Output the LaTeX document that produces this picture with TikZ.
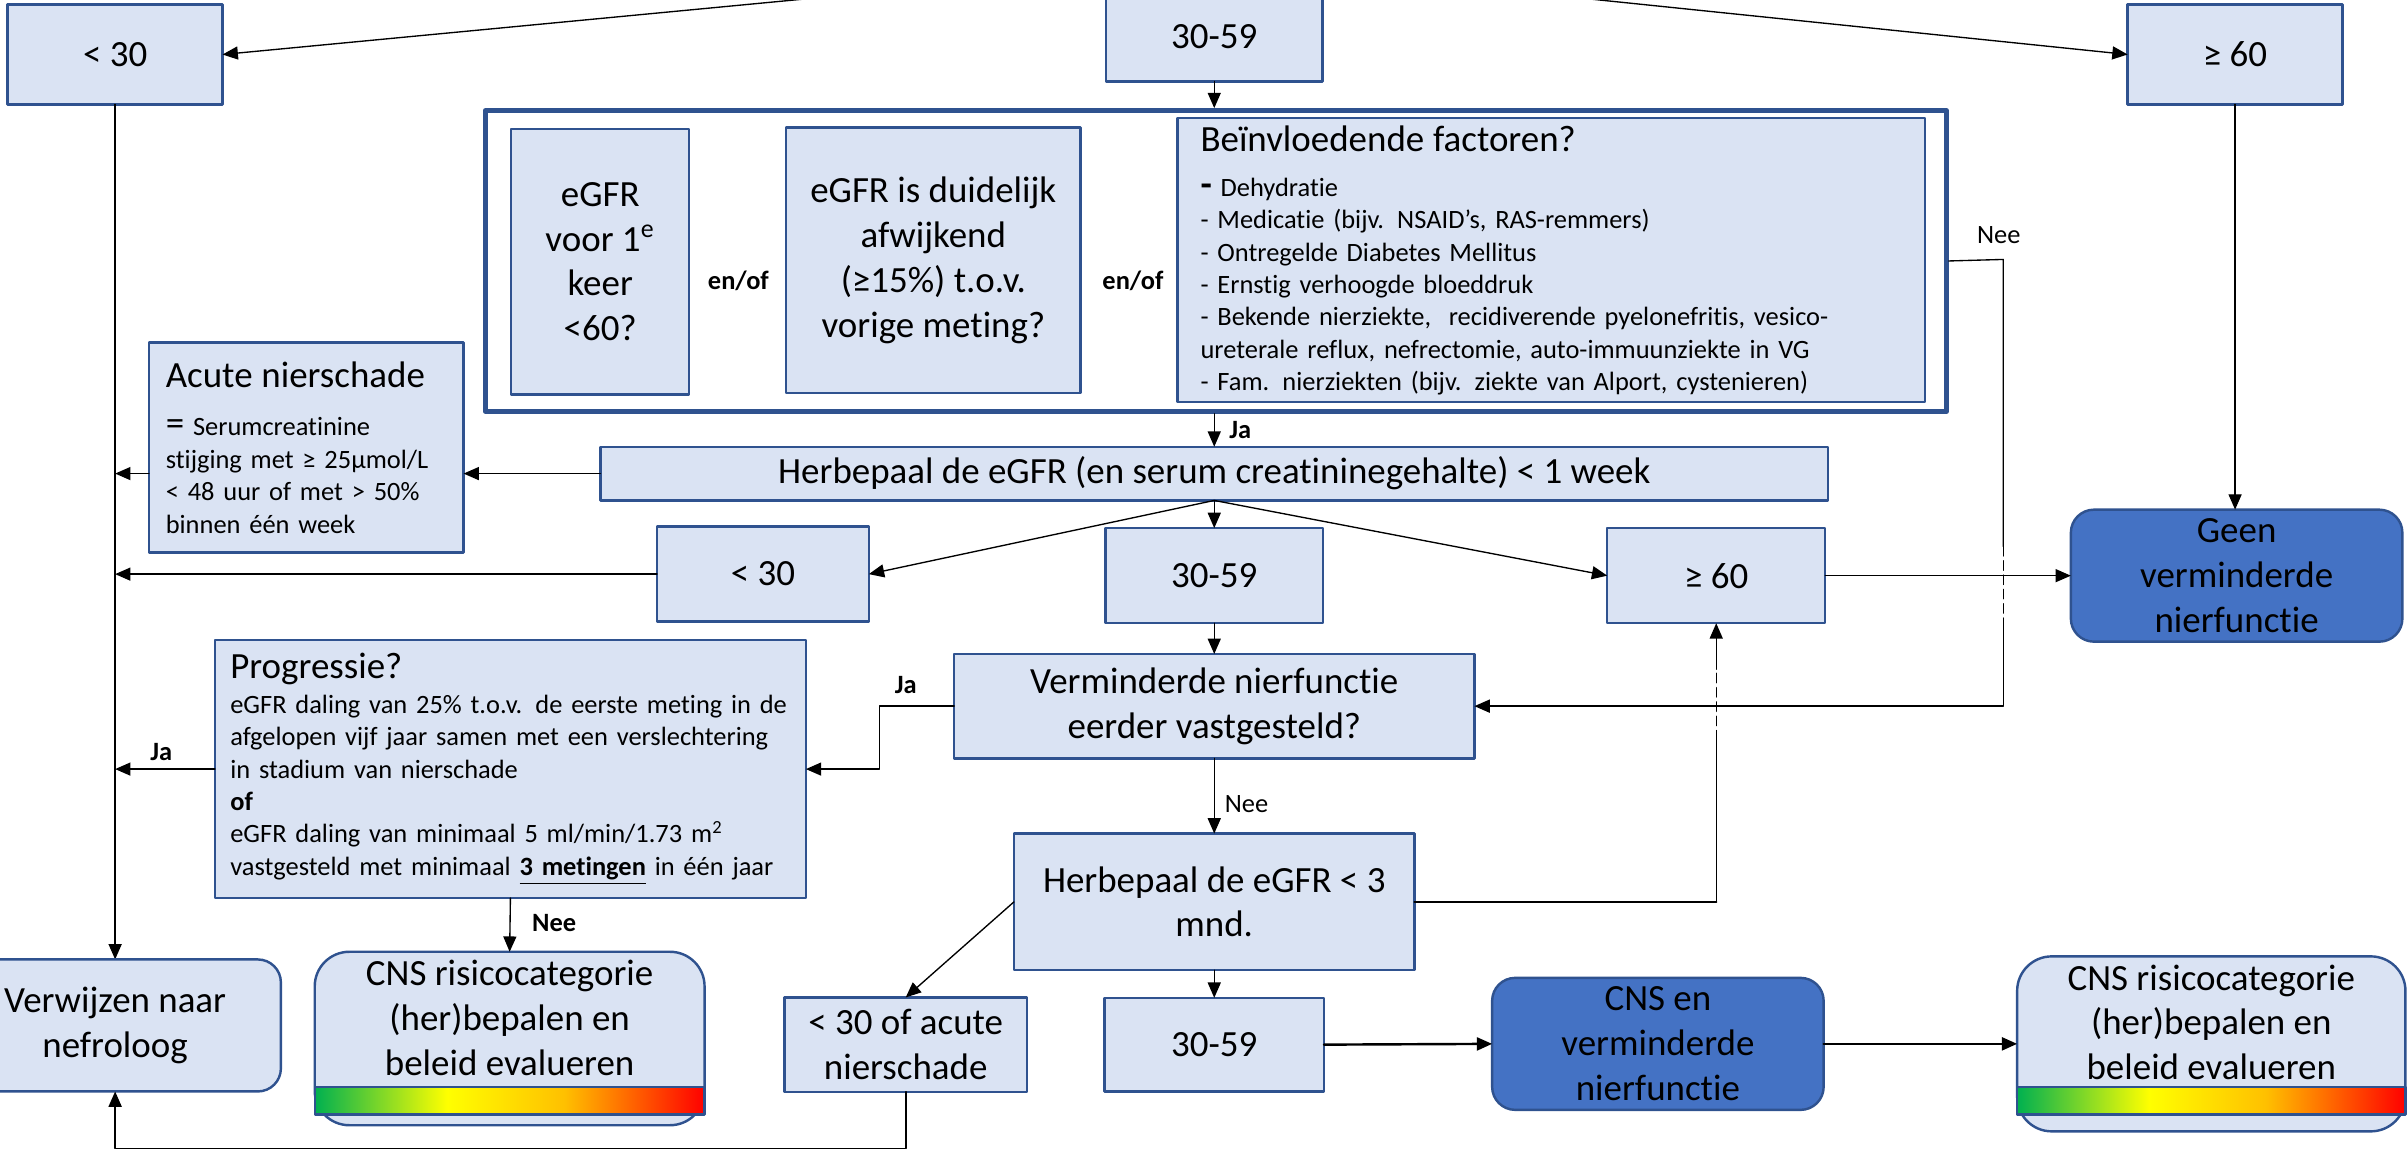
\documentclass[tikz,border=0pt]{standalone}
\usepackage{fontspec}
\setmainfont{Carlito}[Ligatures=NoCommon]
\usetikzlibrary{arrows.meta,positioning,calc}
\definecolor{boxfill}{HTML}{DAE3F3}
\definecolor{boxline}{HTML}{2F528F}
\definecolor{darkfill}{HTML}{4472C4}
\definecolor{riskgreen}{HTML}{00B050}
\definecolor{riskyellow}{HTML}{FFFF00}
\definecolor{riskgold}{HTML}{FFC000}
\definecolor{riskred}{HTML}{FF0000}
\newcommand{\bigtxt}{\fontsize{13.7}{16.6}\selectfont}
\newcommand{\smalltxt}{\fontsize{9.8}{12}\selectfont}
\pgfdeclarehorizontalshading{riskbar}{100bp}{color(0bp)=(riskgreen); color(25bp)=(riskgreen); color(42bp)=(riskyellow); color(57bp)=(riskgold); color(75bp)=(riskred); color(100bp)=(riskred)}
\tikzset{
    every picture/.style={line cap=round,line join=round},
    flowbox/.style={draw=boxline,fill=boxfill,line width=0.9pt,
      inner sep=2pt,outer sep=0pt,font=\bigtxt,align=center},
    textbox/.style={flowbox,font=\smalltxt,align=left},
    roundbox/.style={flowbox,rounded corners=3mm},
    darkbox/.style={roundbox,fill=darkfill},
    riskbox/.style={flowbox,rounded corners=4.5mm},
    groupframe/.style={draw=boxline,fill=white,line width=1.8pt},
    flowline/.style={line width=0.5pt},
    flowarrow/.style={-{Triangle[length=2mm,width=1.7mm]},line width=0.5pt},
    thickarrow/.style={flowarrow,line width=0.9pt},
    crossdash/.style={line width=0.5pt,dash pattern=on 3.5pt off 1.8pt},
    edgelabel/.style={font=\smalltxt,inner sep=1pt},
    choicelabel/.style={edgelabel,font=\smalltxt\bfseries}
}
\begin{document}
\begin{tikzpicture}[x=0.02cm,y=-0.02cm]
  \useasboundingbox (0,0) rectangle (1568,751);
  \clip (0,0) rectangle (1568,751);
  % first measurement
  \coordinate (parent) at (790,-26);
  \node[flowbox,minimum width=2.8cm,minimum height=1.3cm] (topA) at (75,35.5) {< 30};
  \node[flowbox,minimum width=2.82cm,minimum height=1.16cm] (topB) at (791,24) {30-59};
  \node[flowbox,minimum width=2.8cm,minimum height=1.3cm] (topC) at (1456,35.5) {≥ 60};
  \draw[flowarrow] (parent) -- (topA.east);
  \draw[flowarrow] (parent) -- (topC.west);

  % criteria group
  \node[groupframe,minimum width=19.04cm,minimum height=3.92cm] (frame) at (792,170) {};
  \node[flowbox,minimum width=2.32cm,minimum height=3.46cm] (first) at (391,170.5)
    {eGFR\\voor 1\textsuperscript{e}\\keer\\<60?};
  \node[choicelabel] (enofA) at (481,183) {en/of};
  \node[flowbox,minimum width=3.84cm,minimum height=3.46cm] (drop) at (608,169.5)
    {eGFR is duidelijk\\afwijkend\\(≥15\%) t.o.v.\\vorige meting?};
  \node[choicelabel] (enofB) at (738,183) {en/of};
  \node[textbox,minimum width=9.74cm,minimum height=3.7cm,inner xsep=0.3cm,text width=9.14cm] (factors) at (1010.5,169.5)
    {{\bigtxt Beïnvloedende factoren?}\\[4.8pt]
     {\bigtxt\bfseries -} Dehydratie\\
     - Medicatie (bijv. NSAID’s, RAS-remmers)\\
     - Ontregelde Diabetes Mellitus\\
     - Ernstig verhoogde bloeddruk\\
     - Bekende nierziekte, \ recidiverende pyelonefritis, vesico-\\
     ureterale reflux, nefrectomie, auto-immuunziekte in VG\\
     - Fam. nierziekten (bijv. ziekte van Alport, cystenieren)};
  \draw[flowarrow] (topB.south) -- (topB.south |- frame.north);
  \draw[flowarrow] (topA.south) -- (topA.south |- {(0,625)});

  % retest within one week
  \node[flowbox,minimum width=16cm,minimum height=0.7cm] (retestA) at (791,308.5)
    {Herbepaal de eGFR (en serum creatininegehalte) < 1 week};
  \node[textbox,minimum width=4.1cm,minimum height=2.74cm,inner xsep=0.22cm,text width=3.66cm] (acute) at (199.5,291.5)
    {{\bigtxt Acute nierschade}\\[6pt]
     {\bigtxt =} Serumcreatinine\\
     stijging met ≥ 25µmol/L\\
     < 48 uur of met > 50\%\\
     binnen één week};
  \draw[flowarrow] (retestA.north |- frame.south) -- (retestA.north);
  \node[choicelabel] (jaA) at (808,280) {Ja};
  \draw[flowarrow] (retestA.west) -- (retestA.west -| acute.east);
  \draw[flowarrow] (retestA.west -| acute.west) -- (retestA.west -| topA.south);

  \node[flowbox,minimum width=2.76cm,minimum height=1.24cm] (lowA) at (497,374) {< 30};
  \node[flowbox,minimum width=2.84cm,minimum height=1.24cm] (lowB) at (791,375) {30-59};
  \node[flowbox,minimum width=2.84cm,minimum height=1.24cm] (lowC) at (1118,375) {≥ 60};
  \node[darkbox,minimum width=4.32cm,minimum height=1.72cm] (normal) at (1457,375)
    {Geen\\verminderde\\nierfunctie};
  \draw[flowarrow] (retestA.south) -- (lowA.east);
  \draw[flowarrow] (retestA.south) -- (lowB.north);
  \draw[flowarrow] (retestA.south) -- (lowC.west);
  \draw[flowarrow] (lowA.west) -- (lowA.west -| topA.south);
  \draw[flowarrow] (lowC.east) -- (normal.west);
  \draw[flowarrow] (topC.south) -- (topC.south |- normal.north);

  % earlier known?
  \node[flowbox,minimum width=6.78cm,minimum height=1.36cm] (known) at (791,460)
    {Verminderde nierfunctie\\eerder vastgesteld?};
  \draw[flowarrow] (lowB.south) -- (known.north);
  \coordinate (neeTop) at (1305,169);
  \coordinate (neeCrossA) at (1305,356);
  \coordinate (neeCrossB) at (1305,406);
  \draw[flowline] (frame.east) -- (neeTop) -- (neeCrossA);
  \draw[crossdash] (neeCrossA) -- (neeCrossB);
  \draw[flowarrow] (neeCrossB) |- (known.east);
  \node[edgelabel] (neeA) at (1302,153) {Nee};

  \node[textbox,minimum width=7.7cm,minimum height=3.36cm,inner xsep=0.2cm,text width=7.3cm] (prog) at (332.5,501)
    {{\bigtxt Progressie?}\\[1pt]
     eGFR daling van 25\% t.o.v. de eerste meting in de\\
     afgelopen vijf jaar samen met een verslechtering\\
     in stadium van nierschade\\
     \textbf{of}\\
     eGFR daling van minimaal 5 ml/min/1.73 m\textsuperscript{2}\\
     vastgesteld met minimaal \underline{\textbf{3 metingen}} in één jaar};
  \coordinate (jaTurn) at (573,460);
  \draw[flowarrow] (known.west) -- (jaTurn) |- (prog.east);
  \node[choicelabel] (jaB) at (590,446) {Ja};
  \draw[flowarrow] (prog.west) -- (prog.west -| topA.south);
  \node[choicelabel] (jaC) at (105,490) {Ja};

  % retest within three months
  \node[flowbox,minimum width=5.22cm,minimum height=1.78cm] (retestB) at (791,587.5)
    {Herbepaal de eGFR < 3\\mnd.};
  \draw[flowarrow] (known.south) -- (retestB.north);
  \node[edgelabel] (neeB) at (812,524) {Nee};
  \coordinate (backTurn) at (retestB.east -| lowC.south);
  \coordinate (backCrossA) at (1118,482);
  \coordinate (backCrossB) at (1118,436);
  \draw[flowline,line width=0.9pt] (retestB.east) -- (backTurn);
  \draw[flowline] (backTurn) -- (backCrossA);
  \draw[crossdash] (backCrossA) -- (backCrossB);
  \draw[flowarrow] (backCrossB) -- (lowC.south);

  % outcomes
  \node[roundbox,minimum width=4.32cm,minimum height=1.72cm] (refer) at (75,668)
    {Verwijzen naar\\nefroloog};
  \node[riskbox,minimum width=5.08cm,minimum height=2.26cm] (riskA) at (332,676.5) {};
  \shadedraw[shading=riskbar,draw=boxline,line width=0.9pt]
    ([yshift=0.14cm]riskA.south west) rectangle ([yshift=0.5cm]riskA.south east);
  \node[font=\bigtxt,align=center] (riskAtext) at (332,663)
    {CNS risicocategorie\\(her)bepalen en\\beleid evalueren};
  \draw[flowarrow] (prog.south) -- (riskA.north);
  \node[choicelabel] (neeC) at (361,601) {Nee};

  \node[flowbox,minimum width=3.16cm,minimum height=1.23cm] (acuteB) at (590,680.5)
    {< 30 of acute\\nierschade};
  \node[flowbox,minimum width=2.86cm,minimum height=1.22cm] (lowD) at (791,680.5) {30-59};
  \node[darkbox,minimum width=4.32cm,minimum height=1.72cm] (ckd) at (1080,680)
    {CNS en\\verminderde\\nierfunctie};
  \node[riskbox,minimum width=5.06cm,minimum height=2.28cm] (riskB) at (1440.5,680) {};
  \shadedraw[shading=riskbar,draw=boxline,line width=0.9pt]
    ([yshift=0.22cm]riskB.south west) rectangle ([yshift=0.58cm]riskB.south east);
  \node[font=\bigtxt,align=center] (riskBtext) at (1440.5,666)
    {CNS risicocategorie\\(her)bepalen en\\beleid evalueren};

  \draw[flowarrow] (retestB.west) -- (acuteB.north);
  \draw[flowarrow] (retestB.south) -- (lowD.north);
  \draw[thickarrow] (lowD.east) -- (ckd.west);
  \draw[thickarrow] (ckd.east) -- (riskB.west);
  \draw[flowarrow,line width=0.6pt] (acuteB.south) -- ++(0,37) -| (refer.south);
\end{tikzpicture}
\end{document}
